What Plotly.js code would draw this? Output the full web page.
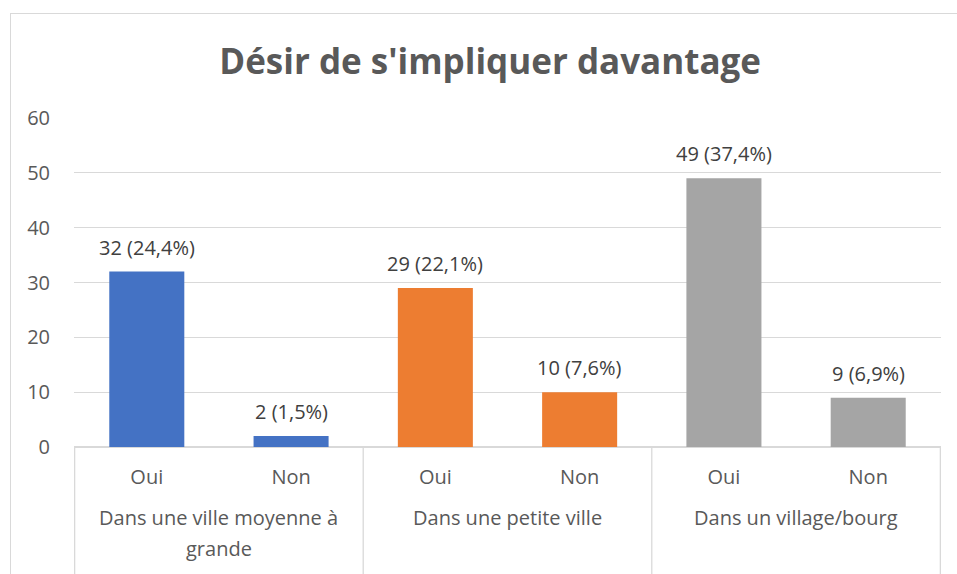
<!DOCTYPE html>
<html>
<head>
<meta charset="utf-8">
<script src="https://cdn.plot.ly/plotly-3.0.1.min.js"></script>
<style>
  html, body { margin: 0; padding: 0; background: #ffffff; }
  #wrap { position: relative; width: 957px; height: 574px; overflow: hidden; }
  #chart { width: 957px; height: 574px; }
  #frame { position: absolute; left: 10px; top: 13px; width: 980px; height: 600px;
           border: 1px solid #d9d9d9; pointer-events: none; box-sizing: border-box; }
</style>
</head>
<body>
<div id="wrap">
  <div id="chart"></div>
  <div id="frame"></div>
</div>
<script>
const titleText = "Désir de s'impliquer davantage";
const groups = ["Dans une ville moyenne à<br>grande", "Dans une petite ville", "Dans un village/bourg"];
const answers = ["Oui", "Non"];
const counts = [32, 2, 29, 10, 49, 9];
const percents = ["24,4%", "1,5%", "22,1%", "7,6%", "37,4%", "6,9%"];
const groupColors = ["#4472C4", "#ED7D31", "#A5A5A5"];
const yTicks = [0, 10, 20, 30, 40, 50, 60];

const FONT = "'Open Sans', 'Noto Sans', sans-serif";
const TXT = "#595959";

const cats = [], catText = [], colors = [], labels = [];
groups.forEach((g, gi) => {
  answers.forEach((a, ai) => {
    const idx = gi * answers.length + ai;
    cats.push("g" + gi + "_" + a);
    catText.push(a);
    colors.push(groupColors[gi]);
    labels.push(counts[idx] + " (" + percents[idx] + ")");
  });
});

const trace = {
  type: "bar",
  x: cats,
  y: counts,
  width: 0.52,
  marker: { color: colors, line: { width: 0 } },
  hoverinfo: "x+y",
  showlegend: false
};

const annotations = cats.map((c, i) => ({
  x: c, y: counts[i], xref: "x", yref: "y",
  text: labels[i], showarrow: false,
  yanchor: "bottom", yshift: 9,
  font: { family: FONT, size: 20, color: "#404040" }
}));

groups.forEach((g, gi) => {
  g.split("<br>").forEach((line, li) => {
    annotations.push({
      x: gi * answers.length + (answers.length - 1) / 2, xref: "x",
      y: 0, yref: "paper", yanchor: "top", yshift: -55 - li * 31,
      text: line, showarrow: false, align: "center",
      font: { family: FONT, size: 20, color: TXT }
    });
  });
});

const shapes = [];
for (let k = 0; k <= groups.length; k++) {
  shapes.push({
    type: "line", xref: "x", yref: "paper",
    x0: k * answers.length - 0.5, x1: k * answers.length - 0.5,
    y0: 0, y1: -0.5,
    line: { color: "#d9d9d9", width: 1.3 }
  });
}

const layout = {
  width: 957, height: 574,
  margin: { l: 74, r: 16, t: 118, b: 127, pad: 0 },
  paper_bgcolor: "#ffffff", plot_bgcolor: "#ffffff",
  font: { family: FONT, color: TXT, size: 20 },
  title: {
    text: "<b>" + titleText + "</b>",
    font: { family: FONT, size: 35, color: TXT },
    xref: "paper", x: 0.48, xanchor: "center",
    yref: "container", y: 1 - 62 / 574, yanchor: "middle"
  },
  xaxis: {
    type: "category",
    tickvals: cats, ticktext: catText,
    showgrid: false, zeroline: false,
    showline: false,
    ticks: "outside", ticklen: 12, tickcolor: "rgba(0,0,0,0)",
    tickfont: { family: FONT, size: 20, color: TXT },
    fixedrange: true
  },
  yaxis: {
    range: [0, 60],
    tickvals: yTicks,
    showgrid: true, gridcolor: "#d9d9d9", gridwidth: 1.3,
    zeroline: true, zerolinecolor: "#d9d9d9", zerolinewidth: 1.3,
    showline: false,
    ticks: "outside", ticklen: 19, tickcolor: "rgba(0,0,0,0)",
    tickfont: { family: FONT, size: 20, color: TXT },
    fixedrange: true
  },
  bargap: 0.48,
  annotations: annotations,
  shapes: shapes
};

Plotly.newPlot("chart", [trace], layout, { displayModeBar: false, staticPlot: true });
</script>
</body>
</html>
